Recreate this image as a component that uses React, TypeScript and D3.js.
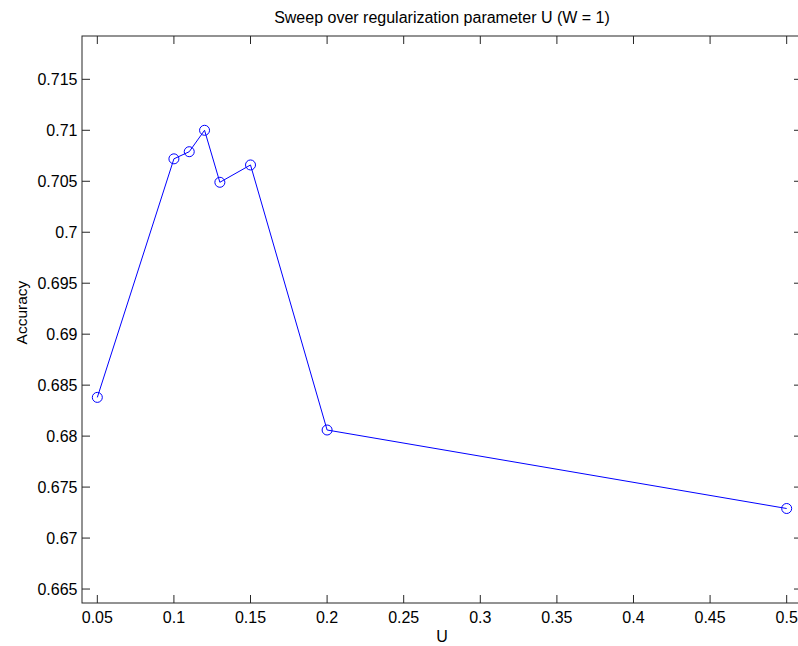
import React from "react";
import * as d3 from "d3";

const uValues = [0.05, 0.1, 0.11, 0.12, 0.13, 0.15, 0.2, 0.5];
const accuracy = [0.6838, 0.7072, 0.7079, 0.71, 0.7049, 0.7066, 0.6806, 0.6729];
const xTicks = [0.05, 0.1, 0.15, 0.2, 0.25, 0.3, 0.35, 0.4, 0.45, 0.5];
const yTicks = [0.665, 0.67, 0.675, 0.68, 0.685, 0.69, 0.695, 0.7, 0.705, 0.71, 0.715];
const xDomain = [0.04, 0.51];
const yDomain = [0.66363, 0.71925];

export default function App() {
  const W = 798, H = 646;
  const left = 82, right = 802, top = 36, bottom = 603;
  const x = d3.scaleLinear().domain(xDomain).range([left, right]);
  const y = d3.scaleLinear().domain(yDomain).range([bottom, top]);
  const line = d3.line<number>().x((_, i) => x(uValues[i])).y((d) => y(d));
  const font = "Liberation Sans, Arial, sans-serif";
  const axisColor = "#262626";
  const tl = 8;
  return (
    <svg width={W} height={H} style={{ position: "absolute", left: 0, top: 0, background: "#fff" }} fontFamily={font}>
      <rect x={0} y={0} width={W} height={H} fill="#fff" />
      <rect x={left} y={top} width={right - left} height={bottom - top} fill="#fff" stroke={axisColor} strokeWidth={1} />
      {xTicks.map((t) => (
        <g key={"x" + t}>
          <line x1={x(t)} x2={x(t)} y1={bottom} y2={bottom - tl} stroke={axisColor} />
          <line x1={x(t)} x2={x(t)} y1={top} y2={top + tl} stroke={axisColor} />
          <text x={x(t)} y={623} fontSize={16} textAnchor="middle" fill="#000">{String(t)}</text>
        </g>
      ))}
      {yTicks.map((t) => (
        <g key={"y" + t}>
          <line x1={left} x2={left + tl} y1={y(t)} y2={y(t)} stroke={axisColor} />
          <line x1={right} x2={right - tl} y1={y(t)} y2={y(t)} stroke={axisColor} />
          <text x={77.5} y={y(t)} dy="0.35em" fontSize={16} textAnchor="end" fill="#000">{String(t)}</text>
        </g>
      ))}
      <path d={line(accuracy) || ""} fill="none" stroke="#0000ff" strokeWidth={1} />
      {accuracy.map((a, i) => (
        <circle key={i} cx={x(uValues[i])} cy={y(a)} r={5} fill="none" stroke="#0000ff" strokeWidth={1} />
      ))}
      <text x={442} y={23} fontSize={16} textAnchor="middle" fill="#000">
        Sweep over regularization parameter U (W = 1)
      </text>
      <text x={442} y={642} fontSize={16} textAnchor="middle" fill="#000">U</text>
      <text transform={`translate(27,312.5) rotate(-90)`} fontSize={15.5} textAnchor="middle" fill="#000">
        Accuracy
      </text>
    </svg>
  );
}
